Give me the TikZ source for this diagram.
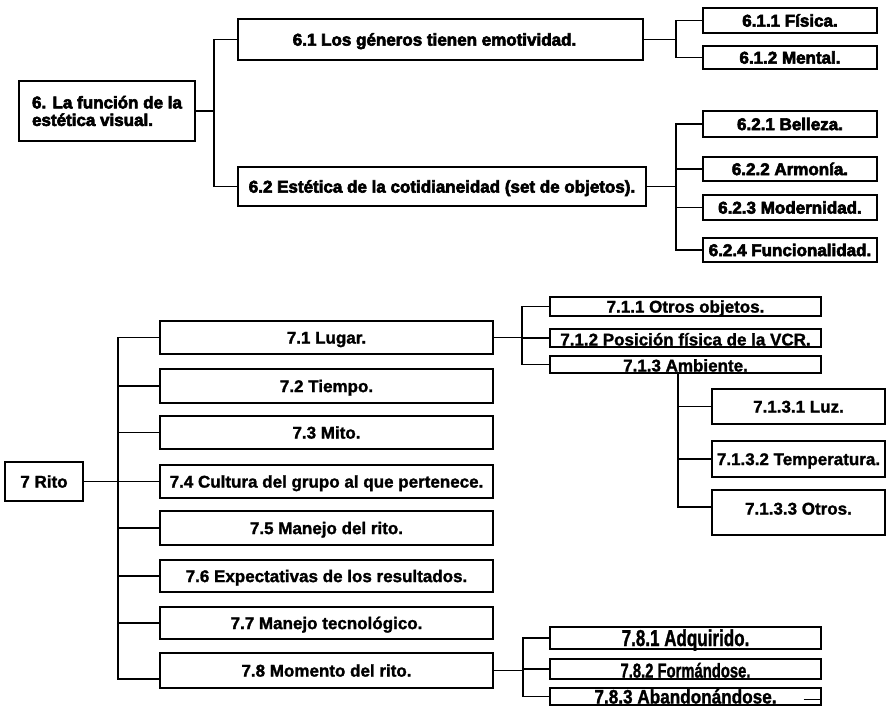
\documentclass[tikz,border=0pt]{standalone}
\usepackage{fontspec}
\setmainfont{Liberation Sans}
% heavier faces for the printed look of the labels
\newfontfamily\heavyface{Liberation Sans}[BoldFeatures={FakeBold=3.5}]
\newfontfamily\midface{Liberation Sans}[BoldFeatures={FakeBold=1.5}]
\usetikzlibrary{calc}

\tikzset{
  frame/.style={draw, line width=1.2pt, inner sep=0pt, align=center,
    font=\midface\bfseries\fontsize{17}{17}\selectfont},
  box/.style={frame, text height=12.2pt, text depth=0pt},
  topbox/.style={box, font=\heavyface\bfseries\fontsize{17}{17}\selectfont},
  link/.style={line width=1.2pt, line join=miter},
}
\newcommand\squeeze[2]{\scalebox{#1}[1]{#2}}

\begin{document}
\begin{tikzpicture}[x=1pt,y=-1pt]
\useasboundingbox (0,0) rectangle (887,707);

% ---------- 6. La funcion de la estetica visual ----------
\node[frame, align=left, font=\heavyface\bfseries\fontsize{17}{17.5}\selectfont,
      minimum width=176, minimum height=60] (n6) at (107,111)
      {6. La función de la\\estética visual.};

\node[topbox, minimum width=405, minimum height=41] (n61) at (440.5,39.5)
      {\hspace*{-12pt}6.1 Los géneros tienen emotividad.};
\node[topbox, minimum width=408, minimum height=39] (n62) at (442,186.5)
      {6.2 Estética de la cotidianeidad (set de objetos).};

\node[topbox, minimum width=174, minimum height=25] (n611) at (790,20.5) {6.1.1 Física.};
\node[topbox, minimum width=174, minimum height=23] (n612) at (790,57.5) {6.1.2 Mental.};

\node[topbox, minimum width=174, minimum height=26] (n621) at (790,124)   {6.2.1 Belleza.};
\node[topbox, minimum width=174, minimum height=24] (n622) at (790,169)   {6.2.2 Armonía.};
\node[topbox, minimum width=174, minimum height=25] (n623) at (790,207.5) {6.2.3 Modernidad.};
\node[topbox, minimum width=174, minimum height=24] (n624) at (790,250)   {6.2.4 Funcionalidad.};

\coordinate (t6) at (214,0);
\coordinate (t61) at (676,0);
\draw[link] (n6.east) -- (n6.east -| t6);
\draw[link] (n61.west) -- (n61.west -| t6) -- (n62.west -| t6) -- (n62.west);

\draw[link] (n61.east) -- (n61.east -| t61);
\draw[link] (n611.west) -- (n611.west -| t61) -- (n612.west -| t61) -- (n612.west);

\draw[link] (n62.east) -- (n62.east -| t61);
\draw[link] (n621.west) -- (n621.west -| t61) -- (n624.west -| t61) -- (n624.west);
\draw[link] (n622.west -| t61) -- (n622.west);
\draw[link] (n623.west -| t61) -- (n623.west);

% ---------- 7 Rito ----------
\node[box, minimum width=78, minimum height=39] (n7) at (44,481.5) {7 Rito};

\node[box, minimum width=333, minimum height=33] (n71) at (326.5,337.5) {7.1 Lugar.};
\node[box, minimum width=333, minimum height=34] (n72) at (326.5,386)   {7.2 Tiempo.};
\node[box, minimum width=333, minimum height=33] (n73) at (326.5,432.5) {7.3 Mito.};
\node[box, minimum width=333, minimum height=33] (n74) at (326.5,481.5) {7.4 Cultura del grupo al que pertenece.};
\node[box, minimum width=333, minimum height=34] (n75) at (326.5,528)   {7.5 Manejo del rito.};
\node[box, minimum width=333, minimum height=32] (n76) at (326.5,576)   {7.6 Expectativas de los resultados.};
\node[box, minimum width=333, minimum height=32] (n77) at (326.5,623)   {7.7 Manejo tecnológico.};
\node[box, minimum width=333, minimum height=35] (n78) at (326.5,670.5) {7.8 Momento del rito.};

\coordinate (t7) at (118,0);
\coordinate (b78) at ($(n78.west)+(0,8.5)$);
\draw[link] (n7.east) -- (n74.west);
\draw[link] (n71.west) -- (n71.west -| t7) -- (b78 -| t7) -- (b78);
\foreach \k in {72,73,75,76,77}
  \draw[link] (n\k.west -| t7) -- (n\k.west);

% 7.1 Lugar
\node[box, minimum width=271, minimum height=19] (n711) at (685.5,306.5) {7.1.1 Otros objetos.};
\node[box, minimum width=271, minimum height=18, text height=15pt] (n712) at (685.5,338)
      {7.1.2 Posición física de la VCR.};
\node[box, minimum width=271, minimum height=17, text height=14pt] (n713) at (685.5,364.5)
      {7.1.3 Ambiente.};

\coordinate (t71) at (522,0);
\draw[link] (n71.east) -- (n71.east -| t71);
\draw[link] (n711.west) -- (n711.west -| t71) -- (n713.west -| t71) -- (n713.west);
\draw[link] (n712.west -| t71) -- (n712.west);

% 7.1.3 Ambiente
\node[box, minimum width=173, minimum height=35] (n7131) at (798.5,406.5) {7.1.3.1 Luz.};
\node[box, minimum width=173, minimum height=36] (n7132) at (798.5,459)   {7.1.3.2 Temperatura.};
\node[box, minimum width=173, minimum height=45, text depth=8pt] (n7133) at (798.5,512.5)
      {7.1.3.3 Otros.};

\coordinate (t713) at ($(n713.south)+(-7.5,0)$);
\coordinate (b7133) at ($(n7133.west)+(0,-5.5)$);
\draw[link] (t713) -- (t713 |- b7133) -- (b7133);
\draw[link] (n7131.west -| t713) -- (n7131.west);
\draw[link] (n7132.west -| t713) -- (n7132.west);

% 7.8 Momento del rito
\node[box, minimum width=271, minimum height=22, text height=16pt] (n781) at (685.5,638)
      {\squeeze{0.74}{\fontsize{23}{23}\selectfont 7.8.1 Adquirido.}};
\node[box, minimum width=271, minimum height=20, text height=17pt] (n782) at (685.5,669)
      {\squeeze{0.74}{\fontsize{20}{20}\selectfont 7.8.2 Formándose.}};
\node[box, minimum width=271, minimum height=17, text height=14pt] (n783) at (685.5,696.5)
      {\squeeze{0.88}{\fontsize{19.5}{19.5}\selectfont 7.8.3 Abandonándose.}};
\draw[link] ($(n783.east)+(-18,3)$) -- ($(n783.east)+(0,3)$);

\coordinate (t78) at (523,0);
\draw[link] (n78.east) -- (n78.east -| t78);
\draw[link] (n781.west) -- (n781.west -| t78) -- (n783.west -| t78) -- (n783.west);
\draw[link] (n782.west -| t78) -- (n782.west);

\end{tikzpicture}
\end{document}
